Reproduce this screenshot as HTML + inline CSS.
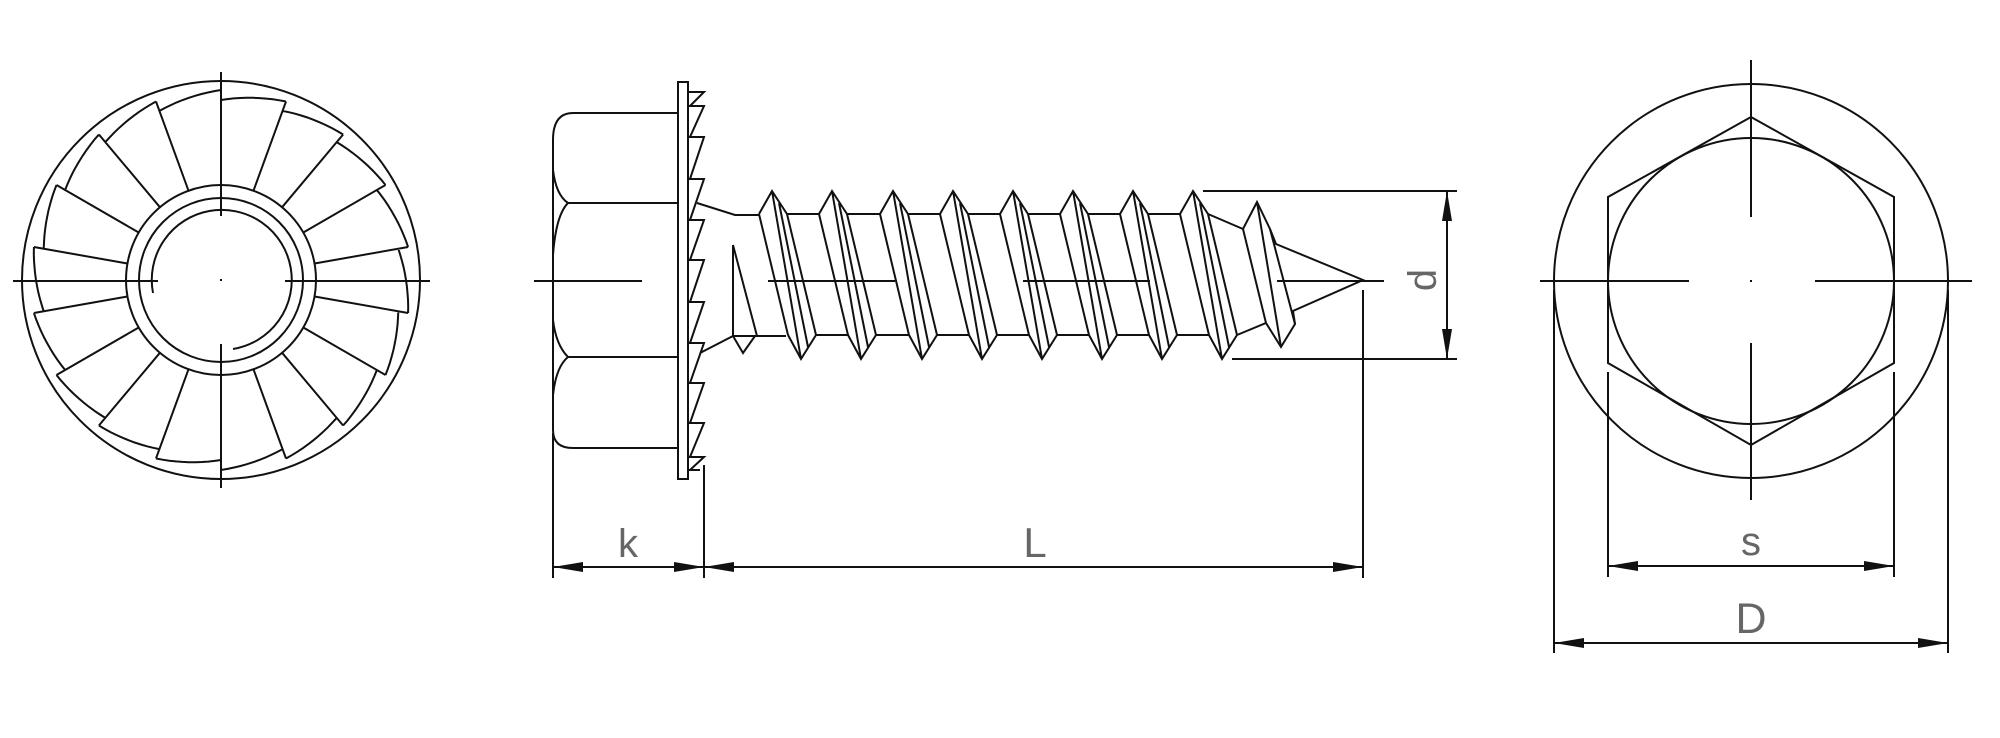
<!DOCTYPE html>
<html><head><meta charset="utf-8"><style>
html,body{margin:0;padding:0;background:#fff;}
svg{display:block;}
text{font-family:"Liberation Sans",sans-serif;fill:#666;}
</style></head><body>
<svg id="s" width="2000" height="738" viewBox="0 0 2000 738" xmlns="http://www.w3.org/2000/svg">
<defs>
<marker id="ar" viewBox="0 0 30 10" refX="30" refY="5" markerWidth="30" markerHeight="10" markerUnits="userSpaceOnUse" orient="auto-start-reverse"><path d="M0,0 L30,5 L0,10 Z" fill="#111"/></marker>
</defs>
<g id="g" fill="none" stroke="#111" stroke-width="2">
<circle cx="221" cy="280" r="199"/>
<circle cx="221" cy="280" r="95"/>
<circle cx="221" cy="280" r="82"/>
<path d="M153,293 A70,70 0 1 1 233,349"/>
<g id="teeth"></g>
<line x1="13" y1="281" x2="158" y2="281"/><line x1="285" y1="281" x2="430" y2="281"/>
<line x1="221" y1="72" x2="221" y2="216"/><line x1="221" y1="344" x2="221" y2="488"/>

<path d="M678,113 H573 Q553,113 553,140 V430 Q553,448 573,448 H678"/>
<path d="M553,170 Q556,195 568,203 Q556,215 553,255"/>
<path d="M553,320 Q556,345 568,357 Q556,367 553,395"/>
<line x1="568" y1="203" x2="678" y2="203"/><line x1="568" y1="357" x2="678" y2="357"/>
<rect x="678" y="82" width="10" height="397"/>
<path id="saw" d=""/>
<path d="M697,203 L735,215 H759"/>
<path d="M700,353 L733,336 H786"/>
<path d="M733,245 V336 L743,353 L755,336 M733,245 L757,336"/>
<g id="thr"></g>
<path d="M1208,214 L1243,229 L1257,202 L1270,229 L1276,244 L1363,280 L1293,311 L1295,324 L1281,347 L1266,323 L1237,335"/>
<path d="M1243,229 L1266,323 M1257,202 L1281,347 M1270,229 L1295,324"/>
<path d="M534,281 H642 M768,281 H895 M1023,281 H1150 M1277,281 H1384"/>
<line x1="1203" y1="191" x2="1457" y2="191"/><line x1="1232" y1="359" x2="1457" y2="359"/>
<line x1="1447" y1="191" x2="1447" y2="359" marker-start="url(#ar)" marker-end="url(#ar)"/>
<line x1="553" y1="433" x2="553" y2="578"/><line x1="704" y1="465" x2="704" y2="578"/>
<line x1="1363" y1="290" x2="1363" y2="578"/>
<line x1="553" y1="567" x2="704" y2="567" marker-start="url(#ar)" marker-end="url(#ar)"/>
<line x1="704" y1="567" x2="1363" y2="567" marker-start="url(#ar)" marker-end="url(#ar)"/>

<circle cx="1751" cy="281" r="197"/>
<circle cx="1751" cy="281" r="143"/>
<path d="M1751,117 L1894,197 V363 L1751,445 L1608,363 V197 Z"/>
<path d="M1540,281 H1689 M1815,281 H1972 M1751,60 V217 M1751,343 V500"/>
<line x1="1608" y1="372" x2="1608" y2="577"/><line x1="1894" y1="372" x2="1894" y2="577"/>
<line x1="1554" y1="290" x2="1554" y2="653"/><line x1="1948" y1="290" x2="1948" y2="653"/>
<line x1="1608" y1="566" x2="1894" y2="566" marker-start="url(#ar)" marker-end="url(#ar)"/>
<line x1="1554" y1="643" x2="1948" y2="643" marker-start="url(#ar)" marker-end="url(#ar)"/>
</g>
<g fill="#111"><rect x="220" y="279" width="2" height="2"/><rect x="1750" y="280" width="2" height="2"/></g>
<text x="628" y="557" font-size="40" text-anchor="middle">k</text>
<text x="1035" y="557" font-size="42" text-anchor="middle">L</text>
<text x="0" y="0" font-size="40" text-anchor="middle" transform="translate(1436,280) rotate(-90)">d</text>
<text x="1751" y="555" font-size="40" text-anchor="middle">s</text>
<text x="1751" y="633" font-size="43" text-anchor="middle">D</text>
</svg>
<script>
(function(){
var ns="http://www.w3.org/2000/svg";
function P(d,par){var p=document.createElementNS(ns,"path");p.setAttribute("d",d);document.getElementById(par).appendChild(p);}
var cx=221,cy=280,d="";
function pt(a,r){var t=a*Math.PI/180;return (cx+r*Math.cos(t)).toFixed(1)+","+(cy-r*Math.sin(t)).toFixed(1);}
for(var k=0;k<18;k++){var a=10+20*k;
 d+="M"+pt(a,95)+" L"+pt(a,190);
 d+=" M"+pt(a,190);
 for(var j=1;j<=10;j++){var aa=a+2*j;d+=" L"+pt(aa,190-1*j);}
 d+=" ";}
P(d,"teeth");
var ys=[92,106,137,179,220,260,302,343,383,423,457,470];
var s="";
for(var i=0;i<ys.length-1;i++){s+="M688,"+ys[i]+" H704 L690,"+ys[i+1]+" ";}
s+="M688,470 H700";
document.getElementById("saw").setAttribute("d",s);
var cs=[772,832,893,953,1013,1073,1133,1193],t="";
for(var i=0;i<cs.length;i++){var c=cs[i];
 t+="M"+(c-13)+",214 L"+c+",191 L"+(c+15)+",214 ";
 t+="M"+(c+16)+",335 L"+(c+29)+",359 L"+(c+44)+",335 ";
 t+="M"+(c-13)+",214 L"+(c+16)+",335 M"+c+",191 L"+(c+29)+",359 M"+(c+7)+",203 L"+(c+36)+",347 M"+(c+15)+",214 L"+(c+44)+",335 ";
 if(i<cs.length-1){t+="M"+(c+15)+",214 H"+(cs[i+1]-13)+" M"+(c+44)+",335 H"+(cs[i+1]+16)+" ";}
}
P(t,"thr");
})();
</script>
</body></html>
